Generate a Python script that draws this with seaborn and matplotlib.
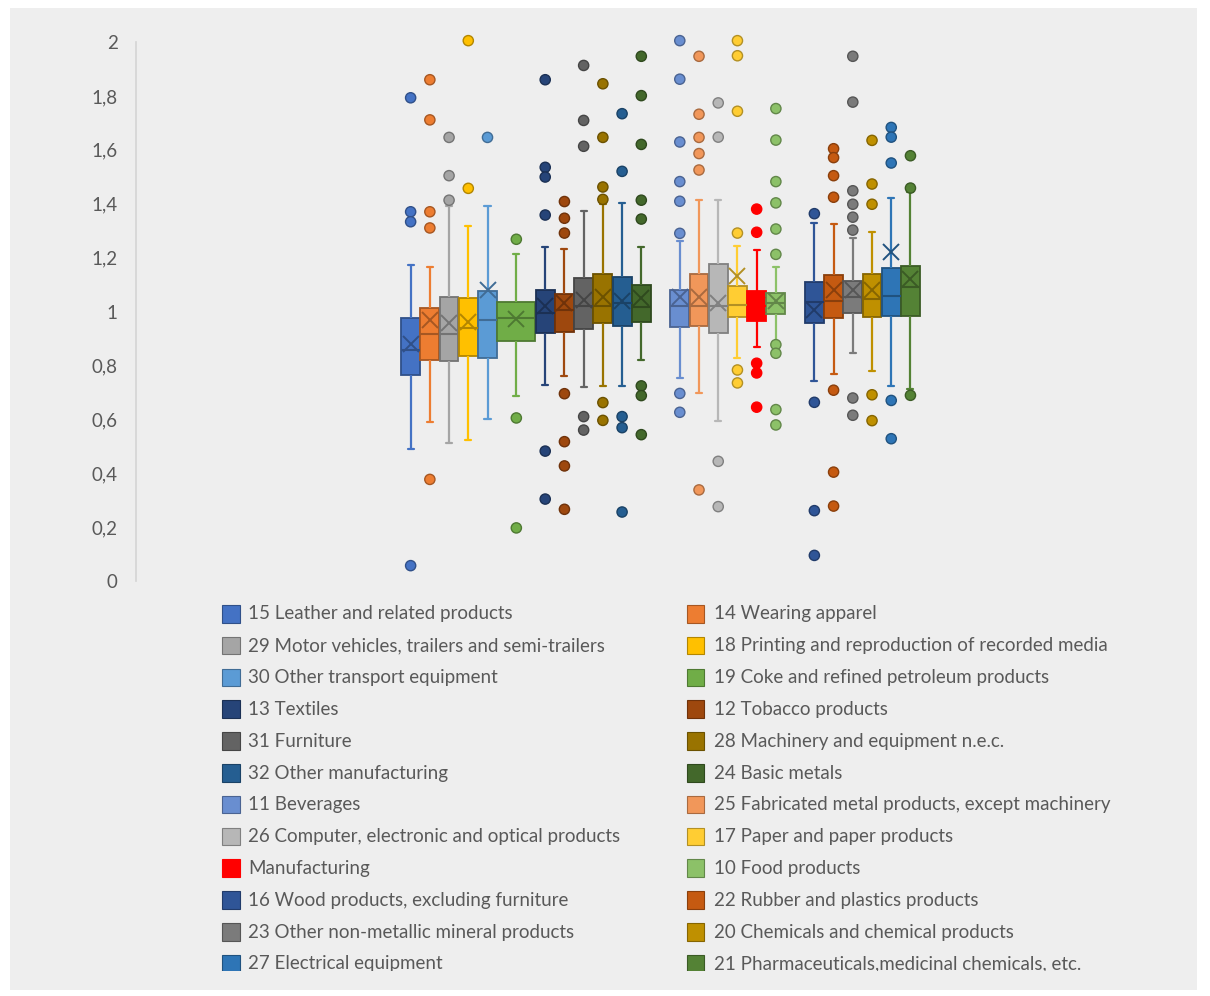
import matplotlib
matplotlib.use("Agg")
import matplotlib.pyplot as plt
import numpy as np
import pandas as pd
import seaborn as sns
from matplotlib.patches import Rectangle
from matplotlib.colors import to_rgb
from matplotlib.ticker import FuncFormatter
from matplotlib.transforms import Bbox

# ---------------------------------------------------------------- data
industries = [
    "15 Leather and related products", "14 Wearing apparel",
    "29 Motor vehicles, trailers and semi-trailers", "18 Printing and reproduction of recorded media",
    "30 Other transport equipment", "19 Coke and refined petroleum products",
    "13 Textiles", "12 Tobacco products",
    "31 Furniture", "28 Machinery and equipment n.e.c.",
    "32 Other manufacturing", "24 Basic metals",
    "11 Beverages", "25 Fabricated metal products, except machinery",
    "26 Computer, electronic and optical products", "17 Paper and paper products",
    "Manufacturing", "10 Food products",
    "16 Wood products, excluding furniture", "22 Rubber and plastics products",
    "23 Other non-metallic mineral products", "20 Chemicals and chemical products",
    "27 Electrical equipment", "21 Pharmaceuticals,medicinal chemicals, etc.",
]

colors = [
    "#4472C4", "#ED7D31", "#A5A5A5", "#FFC000", "#5B9BD5", "#70AD47",
    "#264478", "#9E480E", "#636363", "#997300", "#255E91", "#43682B",
    "#698ED0", "#F1975A", "#B7B7B7", "#FFCD33", "#FF0000", "#8CC168",
    "#2F5597", "#C55A11", "#7B7B7B", "#BF9000", "#2E75B6", "#548235",
]

q1 = [0.766, 0.820, 0.817, 0.835, 0.829, 0.891,
      0.919, 0.923, 0.935, 0.956, 0.947, 0.960,
      0.944, 0.946, 0.920, 0.981, 0.966, 0.991,
      0.956, 0.975, 0.993, 0.978, 0.985, 0.985]
median = [0.857, 0.917, 0.918, 0.940, 0.968, 0.976,
          0.993, 1.006, 1.021, 1.020, 1.033, 1.018,
          1.022, 1.020, 1.020, 1.024, 1.020, 1.030,
          1.035, 1.040, 1.054, 1.046, 1.056, 1.092]
q3 = [0.975, 1.014, 1.055, 1.051, 1.076, 1.036,
      1.080, 1.064, 1.126, 1.140, 1.129, 1.099,
      1.080, 1.138, 1.176, 1.095, 1.077, 1.067,
      1.109, 1.134, 1.112, 1.139, 1.160, 1.169]
whisker_low = [0.490, 0.590, 0.513, 0.524, 0.601, 0.688,
               0.726, 0.761, 0.720, 0.725, 0.724, 0.820,
               0.752, 0.698, 0.594, 0.826, 0.867, 0.885,
               0.742, 0.768, 0.845, 0.778, 0.725, 0.711]
whisker_high = [1.172, 1.166, 1.393, 1.318, 1.393, 1.212,
                1.239, 1.233, 1.373, 1.400, 1.401, 1.239,
                1.263, 1.414, 1.413, 1.243, 1.228, 1.165,
                1.330, 1.325, 1.274, 1.295, 1.422, 1.445]
mean = [0.880, 0.968, 0.959, 0.960, 1.080, 0.971,
        1.019, 1.030, 1.043, 1.054, 1.040, 1.051,
        1.053, 1.055, 1.030, 1.130, 1.025, 1.039,
        1.007, 1.079, 1.078, 1.080, 1.222, 1.120]
outliers = [
    [1.793, 1.370, 1.333, 0.057],
    [1.860, 1.711, 1.370, 1.310, 0.377],
    [1.646, 1.504, 1.413],
    [2.005, 1.457],
    [1.646],
    [1.268, 0.605, 0.197],
    [1.860, 1.535, 1.499, 1.358, 0.482, 0.304],
    [1.408, 1.346, 1.291, 0.695, 0.517, 0.427, 0.266],
    [1.913, 1.709, 1.613, 0.610, 0.560],
    [1.845, 1.646, 1.462, 1.416, 0.662, 0.596],
    [1.734, 1.520, 0.610, 0.569, 0.256],
    [1.947, 1.801, 1.620, 1.413, 1.343, 0.724, 0.688, 0.543],
    [2.005, 1.862, 1.629, 1.482, 1.409, 1.290, 0.696, 0.626],
    [1.947, 1.732, 1.646, 1.586, 1.525, 0.338],
    [1.774, 1.647, 0.444, 0.276],
    [2.005, 1.949, 1.743, 1.291, 0.783, 0.735],
    [1.380, 1.294, 0.808, 0.772, 0.645],
    [1.753, 1.636, 1.482, 1.403, 1.306, 1.212, 0.877, 0.845, 0.636, 0.579],
    [1.363, 0.663, 0.261, 0.095],
    [1.604, 1.571, 1.504, 1.424, 0.708, 0.404, 0.278],
    [1.947, 1.777, 1.448, 1.398, 1.350, 1.302, 0.679, 0.615],
    [1.635, 1.473, 1.398, 0.691, 0.595],
    [1.683, 1.647, 1.551, 0.670, 0.528],
    [1.578, 1.458, 0.689],
]
y_ticks = [0, 0.2, 0.4, 0.6, 0.8, 1, 1.2, 1.4, 1.6, 1.8, 2]

# ---------------------------------------------------------------- layout
W, H = 1210, 996
BG = "#EEEEEE"
TEXT = "#595959"
PER_GROUP = 6
SLOT = 0.1428          # one box slot, in group units
BOX_W = 0.140
CAP_W = 0.045
box_span = [1] * len(industries)
box_span[5] = 2        # the petroleum box is drawn double width


def fx(px):
    return px / W


def fy(py):
    return 1 - py / H


def darker(c, f=0.7):
    r, g, b = to_rgb(c)
    return (r * f, g * f, b * f)


edge_colors = [darker(c) for c in colors]
edge_colors[16] = colors[16]   # solid red for the overall manufacturing box

sns.set_theme(style="white")
plt.rcParams["font.family"] = ["Lato", "DejaVu Sans"]

fig = plt.figure(figsize=(W / 100, H / 100), dpi=100)
fig.patch.set_facecolor("white")
fig.add_artist(Rectangle((fx(10), fy(990)), fx(1197) - fx(10), fy(8) - fy(990),
                         transform=fig.transFigure, facecolor=BG, edgecolor="none", zorder=-5))

ax = fig.add_axes([fx(135.7), fy(581), fx(929.7) - fx(135.7), fy(42) - fy(581)])
ax.set_facecolor("none")

positions = []
for i in range(len(industries)):
    g, s = divmod(i, PER_GROUP)
    span = box_span[i]
    pos = g + (s + (span - 1) / 2 - (PER_GROUP - 1) / 2) * SLOT
    positions.append(pos)
    c, d = colors[i], edge_colors[i]
    stats = [dict(q1=q1[i], med=median[i], q3=q3[i], whislo=whisker_low[i],
                  whishi=whisker_high[i], mean=mean[i], fliers=[])]
    ax.bxp(stats, positions=[pos], widths=[BOX_W + (span - 1) * SLOT],
           capwidths=[CAP_W], showmeans=True, showfliers=False,
           patch_artist=True, manage_ticks=False,
           boxprops=dict(facecolor=c, edgecolor=d, linewidth=1.3),
           whiskerprops=dict(color=c, linewidth=1.6, solid_capstyle="butt"),
           capprops=dict(color=c, linewidth=1.6),
           medianprops=dict(color=d, linewidth=1.5),
           meanprops=dict(marker="x", markeredgecolor=d, markersize=12,
                          markeredgewidth=1.4))

# outlying points
rows = []
for i, vals in enumerate(outliers):
    for v in vals:
        rows.append(dict(industry=industries[i], x=positions[i], value=v))
flier_df = pd.DataFrame(rows)
sns.scatterplot(data=flier_df, x="x", y="value", hue="industry",
                hue_order=industries, palette=dict(zip(industries, colors)),
                s=54, linewidth=1.0, legend=False, zorder=4, clip_on=False, ax=ax)
pts = ax.collections[-1]
pts.set_edgecolors([edge_colors[industries.index(n)] for n in flier_df["industry"]])
pts.set_clip_on(False)

ax.set_xlim(-2.4, 3.5)
ax.set_ylim(0, 2)
ax.set_yticks(y_ticks)
ax.yaxis.set_major_formatter(FuncFormatter(lambda v, _: f"{v:g}".replace(".", ",")))
ax.set_xticks([])
ax.set_xlabel("")
ax.set_ylabel("")
ax.tick_params(axis="y", length=0, pad=13, labelsize=13.5, labelcolor=TEXT)
for side in ["top", "right", "bottom"]:
    ax.spines[side].set_visible(False)
ax.spines["left"].set_color("#D4D4D4")
ax.spines["left"].set_linewidth(1.2)

# legend, two columns in row order; the legend frame cuts the last row
legend_clip = Bbox.from_extents(0, (H - 971), W, H)
col_square = [222, 687]
col_text = [248, 714]
row0, row_step = 614, 31.8
for i, name in enumerate(industries):
    r, col = divmod(i, 2)
    yc = row0 + r * row_step
    sq = Rectangle((fx(col_square[col]), fy(yc + 8.5)), fx(17.5), 17.5 / H,
                   transform=fig.transFigure, facecolor=colors[i],
                   edgecolor=edge_colors[i], linewidth=0.8)
    fig.add_artist(sq)
    sq.set_clip_box(legend_clip)
    sq.set_clip_on(True)
    t = fig.text(fx(col_text[col]), fy(yc), name, ha="left", va="center",
                 fontsize=13.5, color=TEXT)
    t.set_clip_box(legend_clip)
    t.set_clip_on(True)

fig.savefig("out.png", dpi=100, facecolor=fig.get_facecolor())
